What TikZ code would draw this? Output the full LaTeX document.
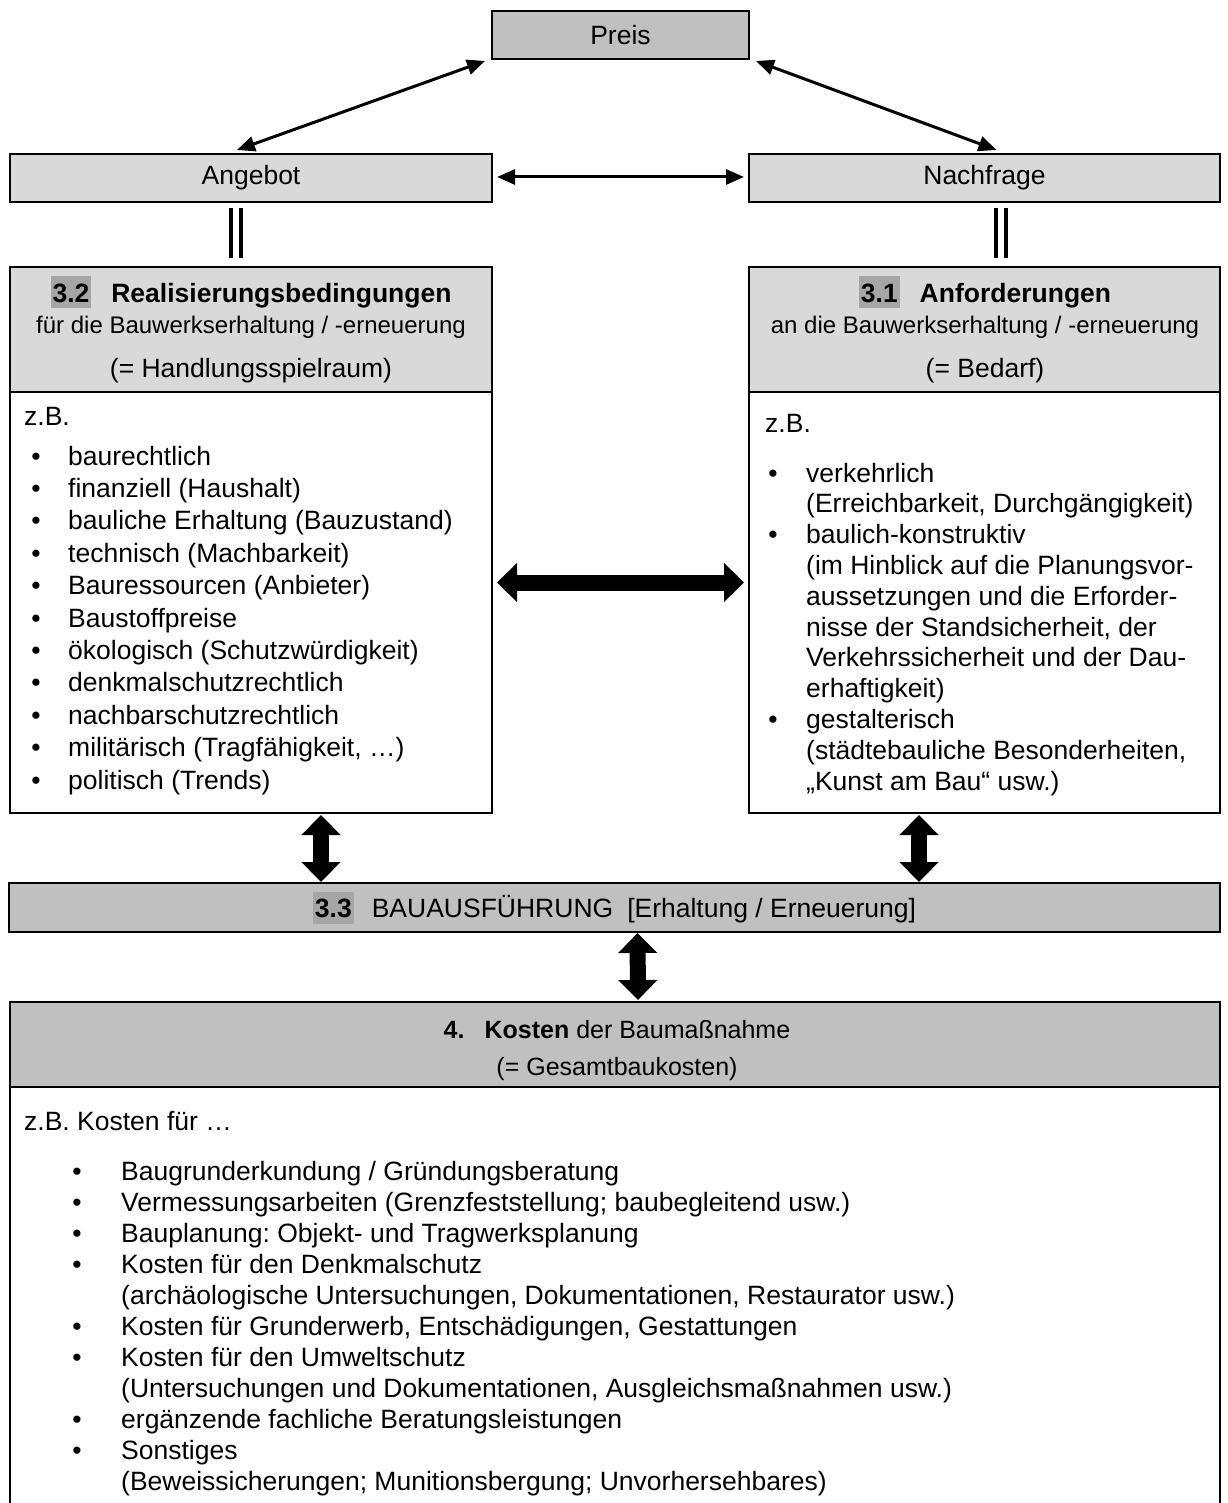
\documentclass[tikz,border=0pt]{standalone}
\usepackage{fontspec}
\setmainfont{Liberation Sans}
\usetikzlibrary{arrows.meta,calc}
\definecolor{gdark}{HTML}{C0C0C0}
\definecolor{glight}{HTML}{D9D9D9}
\definecolor{ghl}{HTML}{A6A6A6}
\newcommand{\fn}{\fontsize{26.5}{31}\selectfont}
\newcommand{\fsm}{\fontsize{24}{28}\selectfont}
\newcommand{\fhd}{\fontsize{25}{29}\selectfont}
\newcommand{\hlbox}[1]{{\setlength{\fboxsep}{0pt}\colorbox{ghl}{\rule[-6pt]{0pt}{32pt}\hspace{2pt}#1\hspace{2pt}}}}
\frenchspacing
\begin{document}
\begin{tikzpicture}[x=1pt,y=-1pt,
  box/.style={draw=black,line width=2.6pt,inner sep=0pt,outer sep=0pt,anchor=north west,font=\fn},
  txt/.style={inner sep=0pt,anchor=base west,font=\fn},
  ctxt/.style={inner sep=0pt,anchor=base,font=\fn},
  bul/.style={inner sep=0pt,anchor=base,font=\fn},
  thinarr/.style={line width=3pt,{Triangle[length=18pt,width=15pt]}-{Triangle[length=18pt,width=15pt]}},
  blockarr/.style={line width=16pt,{Triangle[length=20pt,width=38pt]}-{Triangle[length=20pt,width=38pt]}},
  bar/.style={line width=4pt}
]
\useasboundingbox (0,0) rectangle (1227,1503);

% top boxes
\node[box,fill=gdark,minimum width=257pt,minimum height=48pt] (preis) at (492,11) {Preis};
\node[box,fill=glight,minimum width=482pt,minimum height=48pt] (angebot) at (10,154) {Angebot};
\node[box,fill=glight,minimum width=471pt,minimum height=48pt] (nachfrage) at (749,154) {Nachfrage};

% 3.2 box
\node[box,fill=glight,minimum width=482pt,minimum height=125pt] (h32) at (10,267) {};
\node[box,fill=white,minimum width=482pt,minimum height=421pt] (b32) at (10,392) {};
\node[ctxt] (t32a) at (251,302) {\hlbox{\textbf{3.2}}\hspace{20pt}\textbf{Realisierungsbedingungen}};
\node[ctxt,font=\fsm] (t32b) at (251,333) {für die Bauwerkserhaltung / -erneuerung};
\node[ctxt] (t32c) at (251,377) {(= Handlungsspielraum)};
\node[txt] (z32) at (24,425) {z.B.};
\foreach \t [count=\i from 0] in {{baurechtlich},{finanziell (Haushalt)},{bauliche Erhaltung (Bauzustand)},{technisch (Machbarkeit)},{Bauressourcen (Anbieter)},{Baustoffpreise},{ökologisch (Schutzwürdigkeit)},{denkmalschutzrechtlich},{nachbarschutzrechtlich},{militärisch (Tragfähigkeit, …)},{politisch (Trends)}}{
  \node[bul] (lb\i) at (36,465+32.4*\i) {•};
  \node[txt] (lt\i) at (68,465+32.4*\i) {\t};
}

% 3.1 box
\node[box,fill=glight,minimum width=471pt,minimum height=125pt] (h31) at (749,267) {};
\node[box,fill=white,minimum width=471pt,minimum height=421pt] (b31) at (749,392) {};
\node[ctxt] (t31a) at (985,302) {\hlbox{\textbf{3.1}}\hspace{20pt}\textbf{Anforderungen}};
\node[ctxt,font=\fsm] (t31b) at (985,333) {an die Bauwerkserhaltung / -erneuerung};
\node[ctxt] (t31c) at (985,377) {(= Bedarf)};
\node[txt] (z31) at (765,432) {z.B.};
\node[bul] (rb0) at (773,482) {•};
\node[bul] (rb2) at (773,482+30.8*2) {•};
\node[bul] (rb8) at (773,482+30.8*8) {•};
\foreach \t [count=\i from 0] in {{verkehrlich},{(Erreichbarkeit, Durchgängigkeit)},{baulich-konstruktiv},{(im Hinblick auf die Planungsvor-},{aussetzungen und die Erforder-},{nisse der Standsicherheit, der},{Verkehrssicherheit und der Dau-},{erhaftigkeit)},{gestalterisch},{(städtebauliche Besonderheiten,},{„Kunst am Bau“ usw.)}}{
  \node[txt] (rt\i) at (806,482+30.8*\i) {\t};
}

% 3.3 bar
\node[box,fill=gdark,minimum width=1211pt,minimum height=49pt] (bar33) at (9,883) {\hlbox{\textbf{3.3}}\hspace{18pt}BAUAUSFÜHRUNG\hspace{14pt}[Erhaltung / Erneuerung]};

% 4 box
\node[box,fill=gdark,minimum width=1210pt,minimum height=85pt] (h4) at (10,1002) {};
\node[box,fill=white,minimum width=1210pt,minimum height=480pt] (b4) at (10,1087) {};
\node[ctxt,font=\fhd] (t4a) at (617,1038) {\textbf{4.}\hspace{20pt}\textbf{Kosten} der Baumaßnahme};
\node[ctxt,font=\fhd] (t4b) at (617,1075) {(= Gesamtbaukosten)};
\node[txt] (z4) at (24,1130) {z.B. Kosten für …};
\foreach \k in {0,1,2,3,5,6,8,9}{
  \node[bul] (kb\k) at (77,1180+31*\k) {•};
}
\foreach \t [count=\i from 0] in {{Baugrunderkundung / Gründungsberatung},{Vermessungsarbeiten (Grenzfeststellung; baubegleitend usw.)},{Bauplanung: Objekt- und Tragwerksplanung},{Kosten für den Denkmalschutz},{(archäologische Untersuchungen, Dokumentationen, Restaurator usw.)},{Kosten für Grunderwerb, Entschädigungen, Gestattungen},{Kosten für den Umweltschutz},{(Untersuchungen und Dokumentationen, Ausgleichsmaßnahmen usw.)},{ergänzende fachliche Beratungsleistungen},{Sonstiges},{(Beweissicherungen; Munitionsbergung; Unvorhersehbares)}}{
  \node[txt] (kt\i) at (121,1180+31*\i) {\t};
}

% connectors
\draw[thinarr] ($(preis.south west)+(-7,2)$) -- ($(angebot.north)+(-14,-4)$);
\draw[thinarr] ($(preis.south east)+(7,2)$) -- ($(nachfrage.north)+(12,-4)$);
\draw[thinarr] ($(angebot.east)+(5,-1)$) -- ($(nachfrage.west)+(-5,-1)$);
\draw[bar] ($(angebot.south)+(-20,6)$) -- ($(h32.north)+(-20,-9)$);
\draw[bar] ($(angebot.south)+(-10,6)$) -- ($(h32.north)+(-10,-9)$);
\draw[bar] ($(nachfrage.south)+(11.5,6)$) -- ($(h31.north)+(11.5,-9)$);
\draw[bar] ($(nachfrage.south)+(21.5,6)$) -- ($(h31.north)+(21.5,-9)$);
\draw[blockarr] ($(b32.east)+(5,-20)$) -- ($(b31.west)+(-5,-20)$);
\draw[blockarr] ($(b32.south west)+(311,2)$) -- ($(bar33.north west)+(312,-1)$);
\draw[blockarr] ($(b31.south west)+(170,2)$) -- ($(bar33.north west)+(910,-1)$);
\draw[blockarr] ($(bar33.south)+(23,1)$) -- ($(h4.north)+(23,-2)$);
\end{tikzpicture}
\end{document}
